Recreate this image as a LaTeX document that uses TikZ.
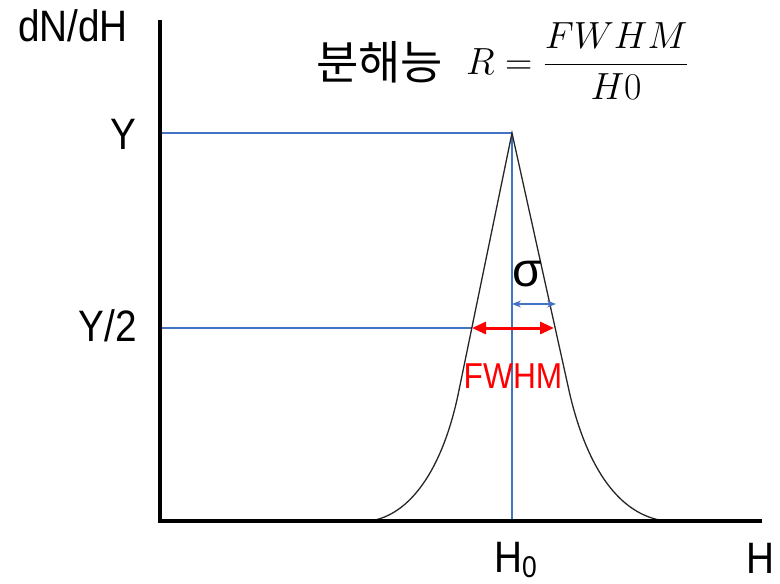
\documentclass[tikz,border=0pt]{standalone}
\usepackage{graphicx}
\usepackage{fontspec}
\setmainfont{Liberation Sans}[FakeStretch=0.88]
\newfontfamily\krfont{Noto Sans CJK KR}
\newfontfamily\sigfont{Liberation Sans}
\usetikzlibrary{arrows.meta}
\definecolor{lineblue}{RGB}{68,114,196}
\begin{document}
\begin{tikzpicture}[x=1pt,y=-1pt,
  axis/.style={line width=4pt},
  guide/.style={lineblue,line width=1.3pt},
  curve/.style={black!85,line width=1.3pt},
  lbl/.style={font=\fontsize{44}{48}\selectfont,inner sep=0pt},
  fwhmarrow/.style={red,line width=3pt,{Triangle[length=14pt,width=12pt]}-{Triangle[length=14pt,width=12pt]}},
  sigarrow/.style={lineblue,line width=1.3pt,{Stealth[length=9pt,width=7pt]}-{Stealth[length=9pt,width=7pt]}}]
\useasboundingbox (0,0) rectangle (780,584);
% coordinates
\coordinate (ytop) at (160,20);
\coordinate (origin) at (160,521);
\coordinate (xend) at (762,521);
\coordinate (peak) at (512,133);
\coordinate (ymark) at (160,133);
\coordinate (hmark) at (160,328);
\coordinate (hl) at (472,328);
\coordinate (hr) at (554,328);
\coordinate (base) at (512,521);
\coordinate (sl) at (512,304);
\coordinate (sr) at (556,304);
\coordinate (cl) at (370,521);
\coordinate (cr) at (665,521);
% guides
\draw[guide] (ymark) -- (peak);
\draw[guide] (hmark) -- (hl);
\draw[guide] (peak) -- (base);
% curve
\draw[curve] (cl) .. controls (410,515) and (442,470) .. (458,395)
  -- (peak) -- (570,395) .. controls (588,470) and (620,515) .. (cr);
% axes
\draw[axis] (ytop) -- (origin) -- (xend);
% arrows
\draw[fwhmarrow] (hl) -- (hr);
\draw[sigarrow] (sl) -- (sr);
% labels
\node[inner sep=0pt,font=\sigfont\fontsize{48}{50}\selectfont] (sigma) at (527,274) {σ};
\node[lbl,font=\fontsize{36}{40}\selectfont,text=red] (fwhm) at (513,376) {FWHM};
\node[lbl] (dndh) at (73,26) {dN/dH};
\node[lbl] (ylab) at (123,134) {Y};
\node[lbl] (y2lab) at (108,326) {Y/2};
\node[lbl,anchor=base west] (h0lab) at (494,572) {H\raisebox{-0.12em}{\fontsize{30}{32}\selectfont 0}};
\node[lbl,anchor=base] (hlab) at (760,573) {H};
\node[inner sep=0pt,anchor=base west,font=\fontsize{46}{50}\selectfont] (kr) at (316,79) {\krfont 분해능};
\node[inner sep=0pt,anchor=base west] (formula) at (466,74)
  {\scalebox{1.52}{\fontsize{24.88}{28}\selectfont$\displaystyle R=\frac{FWHM}{H0}$}};
\end{tikzpicture}
\end{document}
